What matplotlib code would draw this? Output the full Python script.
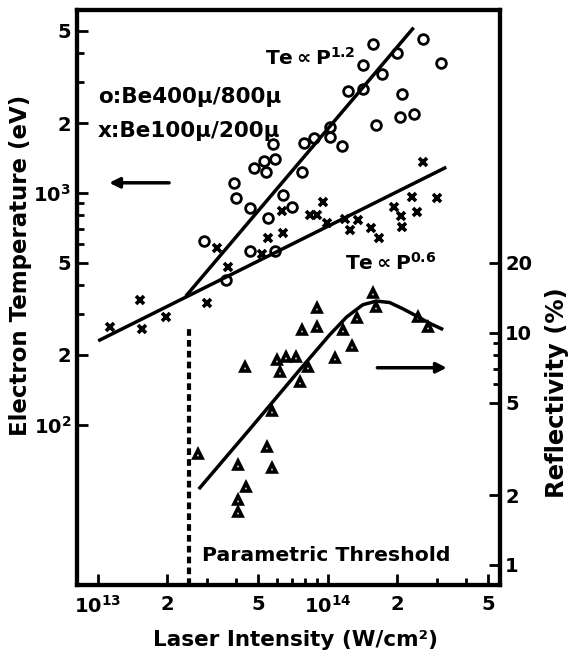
import matplotlib
matplotlib.use("Agg")
import matplotlib.pyplot as plt
from matplotlib.ticker import FixedLocator, FixedFormatter, NullFormatter

plt.rcParams['font.family'] = 'DejaVu Sans'
plt.rcParams['font.weight'] = 'bold'
plt.rcParams['mathtext.default'] = 'bf'

# Be 400u/800u targets (open circles): laser intensity [W/cm2], Te [eV]
circle_P = [3.6e13, 2.9e13, 4.6e13, 5.9e13, 5.5e13, 4.6e13, 4.0e13, 3.9e13, 7.0e13,
            6.4e13, 4.8e13, 5.3e13, 5.9e13, 5.4e13, 7.7e13, 5.8e13, 7.9e13, 8.7e13,
            1.02e14, 1.02e14, 1.16e14, 1.23e14, 1.42e14, 1.42e14, 1.72e14, 1.57e14,
            2.0e14, 2.6e14, 3.1e14, 2.1e14, 2.06e14, 2.37e14, 1.62e14]
circle_Te = [420, 620, 560, 560, 780, 860, 950, 1100, 870,
             980, 1280, 1370, 1400, 1230, 1230, 1630, 1640, 1730,
             1920, 1740, 1600, 2750, 2800, 3560, 3260, 4390,
             4010, 4610, 3630, 2670, 2130, 2190, 1960]

# Be 100u/200u targets (crosses)
cross_P = [1.13e13, 1.55e13, 1.98e13, 1.52e13, 2.98e13, 3.3e13, 3.7e13, 5.2e13, 5.5e13,
           6.4e13, 6.3e13, 8.4e13, 9.0e13, 9.5e13, 9.9e13, 1.19e14, 1.25e14, 1.35e14,
           1.55e14, 1.67e14, 1.95e14, 2.08e14, 2.1e14, 2.32e14, 2.44e14, 3.0e14, 2.6e14]
cross_Te = [265, 260, 292, 346, 336, 580, 480, 546, 640,
            673, 836, 804, 804, 915, 743, 773, 693, 765,
            707, 640, 870, 796, 714, 961, 828, 952, 1360]

# reflectivity [%] (triangles, right axis)
tri_P = [2.72e13, 4.06e13, 4.4e13, 4.06e13, 4.06e13, 5.43e13, 5.7e13, 4.36e13, 5.7e13,
         6.2e13, 6.0e13, 6.6e13, 7.3e13, 7.6e13, 7.7e13, 8.2e13, 9.0e13, 9.0e13,
         1.08e14, 1.17e14, 1.28e14, 1.34e14, 1.57e14, 1.63e14, 2.46e14, 2.72e14]
tri_R = [3.0, 2.7, 2.17, 1.9, 1.69, 3.23, 2.62, 7.1, 4.6,
         6.8, 7.65, 7.9, 7.9, 6.15, 10.3, 7.1, 12.8, 10.6,
         7.8, 10.3, 8.8, 11.6, 14.9, 12.9, 11.7, 10.6]

# scaling laws Te ~ P^1.2 and Te ~ P^0.6
fit_steep_P = [2.44e13, 2.34e14]
fit_steep_Te = [363, 5090]
fit_flat_P = [1.02e13, 3.23e14]
fit_flat_Te = [232, 1280]

# hand-drawn trend through the reflectivity data
refl_curve_P = [2.78e13, 4.67e13, 7.56e13, 1.02e14, 1.21e14, 1.42e14, 1.63e14,
                1.86e14, 2.12e14, 2.44e14, 2.77e14, 3.13e14]
refl_curve_R = [2.15, 3.93, 6.93, 9.8, 11.7, 13.2, 13.7, 13.5, 12.7, 11.8, 11.0, 10.4]

threshold_P = 2.5e13

x_ticks = [1e13, 2e13, 5e13, 1e14, 2e14, 5e14]
x_labels = ['$10^{13}$', '2', '5', '$10^{14}$', '2', '5']
te_ticks = [100, 200, 500, 1000, 2000, 5000]
te_labels = ['$10^{2}$', '2', '5', '$10^{3}$', '2', '5']
r_ticks = [1, 2, 5, 10, 20]
r_labels = ['1', '2', '5', '10', '20']

fig = plt.figure(figsize=(5.73, 6.58), dpi=100)
ax = fig.add_axes([0.134, 0.111, 0.738, 0.874])
ax.set_xscale('log')
ax.set_yscale('log')
ax.set_xlim(8.1e12, 5.6e14)
ax.set_ylim(20.4, 6150)

ax2 = ax.twinx()
ax2.set_yscale('log')
ax2.set_ylim(0.82, 246)

# temperature data
ax.plot(circle_P, circle_Te, 'o', mfc='none', mec='k', ms=7, mew=2)
ax.plot(cross_P, cross_Te, 'x', color='k', ms=6, mew=2.6)
ax.plot(fit_steep_P, fit_steep_Te, 'k-', lw=2.5)
ax.plot(fit_flat_P, fit_flat_Te, 'k-', lw=2.5)

# reflectivity data
ax2.plot(tri_P, tri_R, '^', mfc='white', mec='k', ms=6, mew=2.6)
ax2.plot(refl_curve_P, refl_curve_R, 'k-', lw=2.5)
ax2.plot([threshold_P, threshold_P], [0.82, 10.5], color='k', lw=3, ls=(0, (1.6, 1)))

# arrows pointing to the relevant axis
ax.annotate('', xy=(1.09e13, 1105), xytext=(2.1e13, 1105),
            arrowprops=dict(arrowstyle='-|>', lw=2.5, color='k', mutation_scale=15))
ax2.annotate('', xy=(3.39e14, 7.07), xytext=(1.6e14, 7.07),
             arrowprops=dict(arrowstyle='-|>', lw=2.5, color='k', mutation_scale=15))

ax.text(0.444, 0.9165, r'Te$\propto$P$^{1.2}$', transform=ax.transAxes,
        fontsize=14.5, ha='left', va='center')
ax.text(0.05, 0.849, 'o:Be400μ/800μ', transform=ax.transAxes,
        fontsize=15.5, ha='left', va='center')
ax.text(0.05, 0.79, 'x:Be100μ/200μ', transform=ax.transAxes,
        fontsize=15.5, ha='left', va='center')
ax.text(0.634, 0.56, r'Te$\propto$P$^{0.6}$', transform=ax.transAxes,
        fontsize=14.5, ha='left', va='center')
ax.text(0.2955, 0.052, 'Parametric Threshold', transform=ax.transAxes,
        fontsize=14.7, ha='left', va='center')

fig.text(0.515, 0.027, 'Laser Intensity (W/cm²)', fontsize=15.5, ha='center', va='center')
fig.text(0.035, 0.596, 'Electron Temperature (eV)', fontsize=16.5, ha='center',
         va='center', rotation=90)
fig.text(0.972, 0.403, 'Reflectivity (%)', fontsize=17.5, ha='center',
         va='center', rotation=90)

# ticks
ax.xaxis.set_major_locator(FixedLocator(x_ticks))
ax.xaxis.set_major_formatter(FixedFormatter(x_labels))
ax.xaxis.set_minor_locator(FixedLocator([3e13, 4e13, 6e13, 7e13, 8e13, 9e13, 3e14, 4e14]))
ax.xaxis.set_minor_formatter(NullFormatter())
ax.yaxis.set_major_locator(FixedLocator(te_ticks))
ax.yaxis.set_major_formatter(FixedFormatter(te_labels))
ax.yaxis.set_minor_locator(FixedLocator([300, 400, 600, 700, 800, 900, 3000, 4000]))
ax.yaxis.set_minor_formatter(NullFormatter())
ax2.yaxis.set_major_locator(FixedLocator(r_ticks))
ax2.yaxis.set_major_formatter(FixedFormatter(r_labels))
ax2.yaxis.set_minor_locator(FixedLocator([6, 7, 8, 9]))
ax2.yaxis.set_minor_formatter(NullFormatter())

ax.tick_params(which='both', direction='in', width=2, top=False, right=False,
               labelsize=14)
ax.tick_params(which='major', length=8)
ax.tick_params(which='minor', length=5)
ax.tick_params(axis='x', pad=7)
ax.tick_params(axis='y', pad=4)
ax2.tick_params(which='both', direction='in', width=2, left=False, right=True,
                labelsize=14, pad=4)
ax2.tick_params(which='major', length=8)
ax2.tick_params(which='minor', length=5)

for a in (ax, ax2):
    for s in a.spines.values():
        s.set_linewidth(3)

fig.savefig('out.png', dpi=100)
